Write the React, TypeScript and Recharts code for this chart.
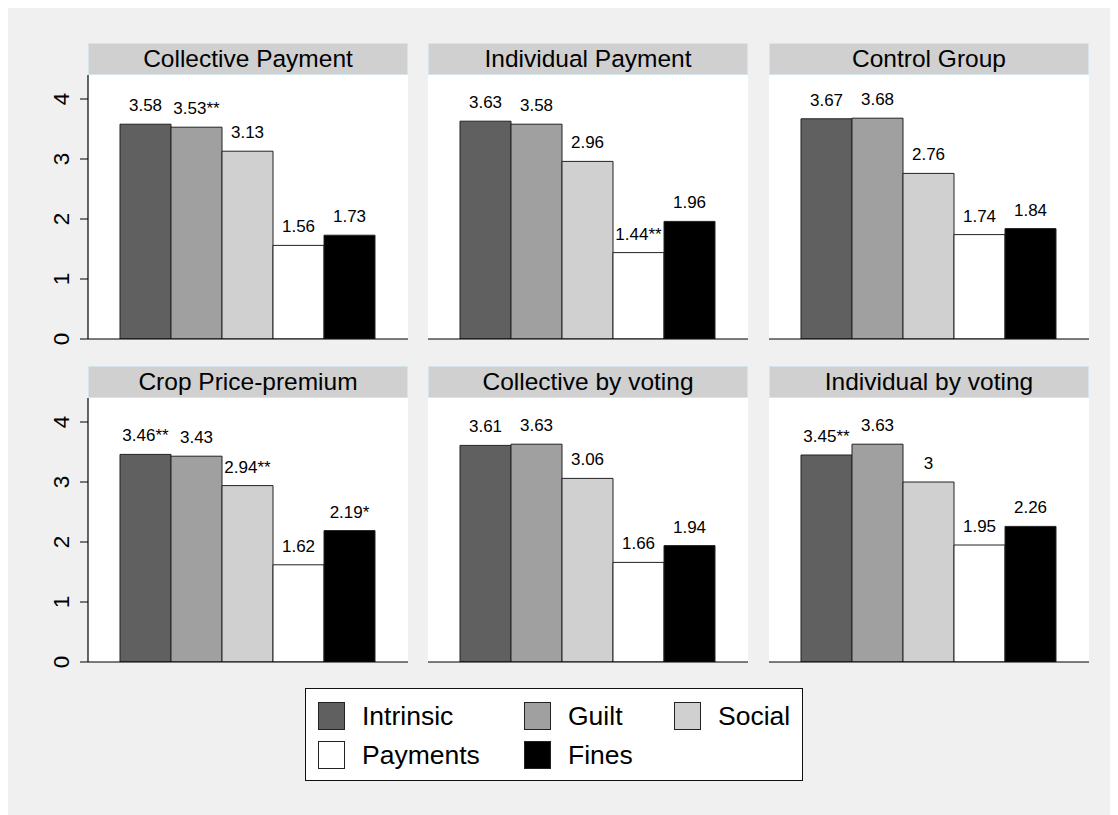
import React from "react";
import { BarChart, Bar, XAxis, YAxis, CartesianGrid, LabelList } from "recharts";

const panelTitles = [
  "Collective Payment",
  "Individual Payment",
  "Control Group",
  "Crop Price-premium",
  "Collective by voting",
  "Individual by voting",
];
const seriesNames = ["Intrinsic", "Guilt", "Social", "Payments", "Fines"];
const intrinsic = [3.58, 3.63, 3.67, 3.46, 3.61, 3.45];
const guilt = [3.53, 3.58, 3.68, 3.43, 3.63, 3.63];
const social = [3.13, 2.96, 2.76, 2.94, 3.06, 3.0];
const payments = [1.56, 1.44, 1.74, 1.62, 1.66, 1.95];
const fines = [1.73, 1.96, 1.84, 2.19, 1.94, 2.26];
const intrinsicStars = ["", "", "", "**", "", "**"];
const guiltStars = ["**", "", "", "", "", ""];
const socialStars = ["", "", "", "**", "", ""];
const paymentsStars = ["", "**", "", "", "", ""];
const finesStars = ["", "", "", "*", "", ""];
const yTicks = [0, 1, 2, 3, 4];

const seriesValues = [intrinsic, guilt, social, payments, fines];
const seriesStars = [intrinsicStars, guiltStars, socialStars, paymentsStars, finesStars];
const seriesFills = ["#606060", "#a0a0a0", "#d0d0d0", "#ffffff", "#000000"];

const FONT = '"Liberation Sans", Arial, Helvetica, sans-serif';
const PLOT_W = 320;
const PLOT_H = 264;
const Y_AXIS_W = 80;
const X_AXIS_H = 20;
const colLefts = [80, 420, 761];
const rowHeaderTops = [38, 361];

const YTick = (props: any) => {
  const { x, y, payload } = props;
  return (
    <text
      transform={`translate(${x - 9},${y}) rotate(-90)`}
      textAnchor="middle"
      fontSize={22.5}
      fontFamily={FONT}
      fill="#000"
    >
      {payload.value}
    </text>
  );
};

const makeLabel = (stars: string[], panel: number) => (props: any) => {
  const { x, y, width, value } = props;
  return (
    <text
      x={x + width / 2}
      y={y - 13}
      textAnchor="middle"
      fontSize={17}
      fontFamily={FONT}
      fill="#000"
    >
      {String(value) + stars[panel]}
    </text>
  );
};

const Panel = ({ index }: { index: number }) => {
  const col = index % 3;
  const row = Math.floor(index / 3);
  const showAxis = col === 0;
  const row0: any = { cat: panelTitles[index] };
  seriesNames.forEach((n, s) => {
    row0[n] = seriesValues[s][index];
  });
  const data = [row0];
  const headerTop = rowHeaderTops[row];
  const plotTop = headerTop + 32;
  const left = colLefts[col];
  return (
    <>
      <div
        style={{
          position: "absolute",
          left,
          top: headerTop,
          width: PLOT_W,
          height: 32,
          boxSizing: "border-box",
          background: "#d0d0d0",
          border: "1.5px solid #d6e5ec",
          fontFamily: FONT,
          fontSize: 24.5,
          lineHeight: "29px",
          textAlign: "center",
          color: "#000",
          whiteSpace: "nowrap",
        }}
      >
        {panelTitles[index]}
      </div>
      <div
        style={{
          position: "absolute",
          left: showAxis ? left - Y_AXIS_W : left,
          top: plotTop,
        }}
      >
        <BarChart
          width={(showAxis ? Y_AXIS_W : 0) + PLOT_W}
          height={PLOT_H + X_AXIS_H}
          data={data}
          margin={{ top: 0, right: 0, bottom: 0, left: 0 }}
          barCategoryGap="10%"
          barGap={0}
        >
          <rect x={showAxis ? Y_AXIS_W : 0} y={0} width={PLOT_W} height={PLOT_H} fill="#ffffff" />
          <CartesianGrid horizontal vertical={false} stroke="#e8e8e8" strokeWidth={1.5} />
          <XAxis
            dataKey="cat"
            tick={false}
            tickLine={false}
            axisLine={{ stroke: "#000", strokeWidth: 1.2 }}
            height={X_AXIS_H}
          />
          <YAxis
            domain={[0, 4.4]}
            ticks={yTicks}
            type="number"
            hide={!showAxis}
            width={Y_AXIS_W}
            tickSize={8}
            tickMargin={2}
            tickLine={{ stroke: "#000" }}
            axisLine={{ stroke: "#000", strokeWidth: 1.2 }}
            tick={<YTick />}
            interval={0}
            allowDataOverflow
          />
          {seriesNames.map((n, s) => (
            <Bar
              key={n}
              dataKey={n}
              fill={seriesFills[s]}
              stroke="#222"
              strokeWidth={1}
              isAnimationActive={false}
            >
              <LabelList dataKey={n} content={makeLabel(seriesStars[s], index)} />
            </Bar>
          ))}
        </BarChart>
      </div>
    </>
  );
};

const legendCols = [
  { sw: 12, tx: 56 },
  { sw: 218, tx: 262 },
  { sw: 368, tx: 412 },
];
const legendRows = [13, 52];

const Legend = () => (
  <div
    style={{
      position: "absolute",
      left: 297,
      top: 683,
      width: 498,
      height: 93,
      boxSizing: "border-box",
      border: "1.5px solid #111",
      background: "#fff",
      fontFamily: FONT,
    }}
  >
    {seriesNames.map((n, s) => {
      const c = legendCols[s % 3];
      const r = legendRows[Math.floor(s / 3)];
      return (
        <React.Fragment key={n}>
          <div
            style={{
              position: "absolute",
              left: c.sw,
              top: r,
              width: 27,
              height: 28,
              boxSizing: "border-box",
              background: seriesFills[s],
              border: "1.3px solid #222",
            }}
          />
          <div
            style={{
              position: "absolute",
              left: c.tx,
              top: r - 2,
              height: 32,
              lineHeight: "32px",
              fontSize: 26.5,
              color: "#000",
              whiteSpace: "nowrap",
            }}
          >
            {n}
          </div>
        </React.Fragment>
      );
    })}
  </div>
);

export default function App() {
  return (
    <div
      style={{
        position: "relative",
        marginTop: -3,
        width: 1110,
        height: 810,
        background: "#f0f0f0",
        overflow: "hidden",
      }}
    >
      {panelTitles.map((t, i) => (
        <Panel key={t} index={i} />
      ))}
      <Legend />
    </div>
  );
}
